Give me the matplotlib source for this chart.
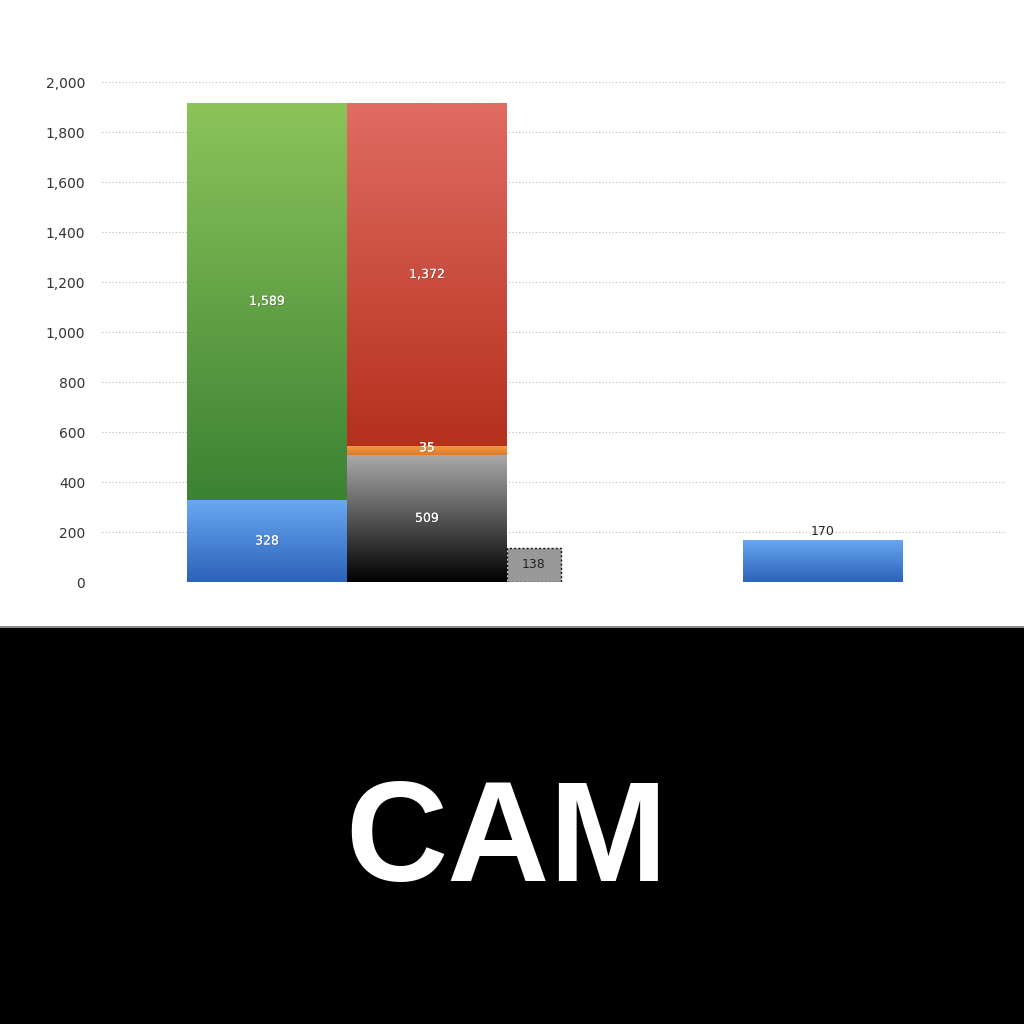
import matplotlib
matplotlib.use("Agg")
import matplotlib.pyplot as plt
import matplotlib.patheffects as pe
from matplotlib.colors import LinearSegmentedColormap
from matplotlib.patches import Rectangle
import numpy as np

# ---- data ----
yticks = [0, 200, 400, 600, 800, 1000, 1200, 1400, 1600, 1800, 2000]
col1_values = [328, 1589]            # blue, green
col2_values = [509, 35, 1372]        # black, orange, red
box_value = 138
single_value = 170

# ---- layout / styles ----
pos1, pos2, pos_box, pos4 = 1.031, 2.031, 2.7, 4.506
bar_w, box_w = 1.0, 0.3375

grad_blue = ("#6aa8f2", "#2c62b9")
grad_green = ("#8cc45a", "#3b8233")
grad_red = ("#e06c62", "#b5301d")
grad_orange = ("#ed9a45", "#df7a28")
grad_black = ("#aaaaaa", "#000000")

fig = plt.figure(figsize=(10.24, 10.24), dpi=100)
fig.patch.set_facecolor("white")

# bottom black panel with grey divider
fig.patches.append(Rectangle((0, 0), 1, 396/1024, transform=fig.transFigure,
                             facecolor="black", edgecolor="none", zorder=0))
fig.patches.append(Rectangle((0, 396/1024), 1, 2.5/1024, transform=fig.transFigure,
                             facecolor="#8a8a8a", edgecolor="none", zorder=0))
fig.text(0.495, 0.19, "CAM", color="white", fontsize=102, fontweight="bold",
         family=["Liberation Sans", "DejaVu Sans"], ha="center", va="center_baseline")

ax = fig.add_axes([102/1024, 1 - 582/1024, 904/1024, 500/1024])
ax.set_xlim(0, 5.65)
ax.set_ylim(0, 2000)
for s in ax.spines.values():
    s.set_visible(False)
ax.set_yticks(yticks)
ax.set_yticklabels([f"{v:,}" for v in yticks], fontsize=10, color="#333333")
ax.tick_params(axis="y", length=0, pad=12)
ax.set_xticks([])
ax.grid(axis="y", linestyle=(0, (1, 2)), color="#bbbbbb", linewidth=0.8)
ax.set_axisbelow(True)


def grad_bar(x, bottom, h, w, colors):
    bars = ax.bar(x, h, w, bottom=bottom, color="none", edgecolor="none", zorder=2)
    patch = bars[0]
    cmap = LinearSegmentedColormap.from_list("g", [colors[1], colors[0]])
    grad = np.linspace(0, 1, 256).reshape(-1, 1)
    im = ax.imshow(grad, cmap=cmap, aspect="auto", origin="lower",
                   extent=[x - w/2, x + w/2, bottom, bottom + h], zorder=2)
    im.set_clip_path(patch)
    return patch


def label(x, y, v, color="white"):
    t = ax.text(x, y, f"{v:,}", ha="center", va="center", fontsize=9,
                color=color, zorder=5)
    t.set_path_effects([pe.withSimplePatchShadow(offset=(0.5, -0.5),
                                                 shadow_rgbFace="#333333", alpha=0.4),
                        pe.Normal()])


# column 1
b = 0
for v, g in zip(col1_values, [grad_blue, grad_green]):
    grad_bar(pos1, b, v, bar_w, g)
    label(pos1, b + v/2, v)
    b += v

# column 2
b = 0
for v, g in zip(col2_values, [grad_black, grad_orange, grad_red]):
    grad_bar(pos2, b, v, bar_w, g)
    label(pos2, b + v/2 + (10 if v < 100 else 0), v)
    b += v

# dotted box
ax.bar(pos_box, box_value, box_w, color="#999999", edgecolor="#111111",
       linestyle=(0, (1.5, 1.5)), linewidth=1.0, zorder=2)
ax.text(pos_box, box_value/2, f"{box_value:,}", ha="center", va="center",
        fontsize=9, color="#222222", zorder=5)

# single bar
grad_bar(pos4, 0, single_value, bar_w, grad_blue)
ax.text(pos4, single_value + 5, f"{single_value:,}", ha="center", va="bottom",
        fontsize=9, color="#222222", zorder=5)

fig.savefig("out.png", dpi=100, facecolor="white")
